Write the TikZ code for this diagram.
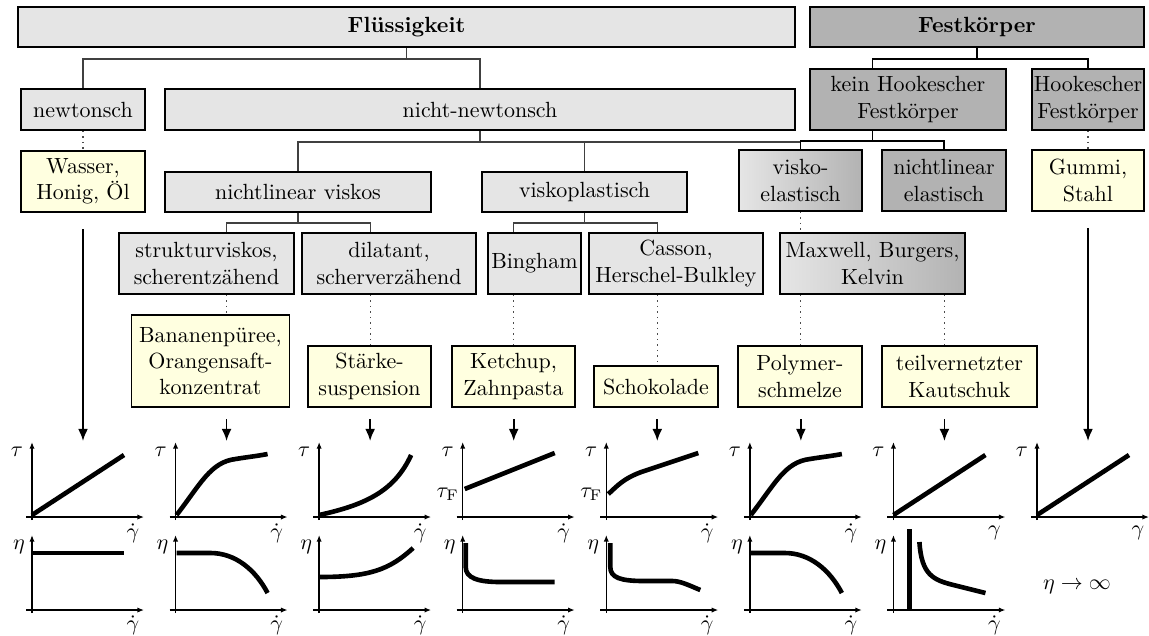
\documentclass[tikz,border=0pt]{standalone}
\usepackage{fontspec}
\usepackage{amsmath}
\usetikzlibrary{arrows.meta, positioning}
\definecolor{fluid}{gray}{0.9}
\definecolor{fest}{gray}{0.7}
\definecolor{beispiel}{RGB}{255,255,224}
\tikzset{
  kasten/.style 2 args={draw, line width=0.9pt, inner sep=0pt, align=center,
    minimum width=#1*0.455pt, minimum height=#2*0.455pt},
  zweig/.style={line width=0.5pt, black!75},
  fein/.style={dotted, line width=0.5pt, black!70},
  pfeil/.style={-{Latex[length=5.5pt,width=4.5pt]}, line width=0.8pt},
  achse/.style={-{Latex[length=3pt,width=2.4pt]}, line width=0.7pt},
  kurve/.style={line width=2.1pt},
}

\begin{document}
\begin{tikzpicture}[x=0.455pt, y=-0.455pt]
  \useasboundingbox (0,0) rectangle (1149,635);

  % Hauptgruppen
  \node[kasten={777}{40}, fill=fluid] (fl) at (406.5,27) {\textbf{Flüssigkeit}};
  \node[kasten={334}{40}, fill=fest] (fk) at (977,27) {\textbf{Festkörper}};

  \node[kasten={124}{41}, fill=fluid] (newt) at (83,109.5) {newtonsch};
  \node[kasten={630}{41}, fill=fluid] (nnewt) at (480,109.5) {nicht-newtonsch};
  \node[kasten={196}{61}, fill=fest] (khook) at (908,99.5) {kein Hookescher\\Festkörper};
  \node[kasten={112}{61}, fill=fest] (hook) at (1088,99.5) {Hookescher\\Festkörper};

  \node[kasten={124}{61}, fill=beispiel] (wasser) at (83,181.5) {Wasser,\\Honig, Öl};
  \node[kasten={266}{40}, fill=fluid] (nlvis) at (298,192) {nichtlinear viskos};
  \node[kasten={205}{40}, fill=fluid] (vplast) at (584.5,192) {viskoplastisch};
  \node[kasten={123}{61}, left color=fluid, right color=fest] (vel) at (800.5,180.5) {visko-\\elastisch};
  \node[kasten={124}{61}, fill=fest] (nlel) at (944,180.5) {nichtlinear\\elastisch};
  \node[kasten={112}{61}, fill=beispiel] (gummi) at (1088,180.5) {Gummi,\\Stahl};

  \node[kasten={175}{61}, fill=fluid] (struk) at (206.5,263.5) {strukturviskos,\\scherentzähend};
  \node[kasten={174}{61}, fill=fluid] (dil) at (389,263.5) {dilatant,\\scherverzähend};
  \node[kasten={93}{61}, fill=fluid] (bing) at (534.5,263.5) {Bingham};
  \node[kasten={174}{61}, fill=fluid] (cass) at (676,263.5) {Casson,\\Herschel-Bulkley};
  \node[kasten={185}{61}, left color=fluid, right color=fest] (maxw) at (872.5,263.5) {Maxwell, Burgers,\\Kelvin};

  % Beispiele
  \node[kasten={158}{92}, fill=beispiel] (banane) at (210.5,361) {Bananenpüree,\\Orangensaft-\\konzentrat};
  \node[kasten={123}{61}, fill=beispiel] (staerke) at (369.5,376.5) {Stärke-\\suspension};
  \node[kasten={123}{61}, fill=beispiel] (ketchup) at (513.5,376.5) {Ketchup,\\Zahnpasta};
  \node[kasten={124}{41}, fill=beispiel] (schoko) at (656,386.5) {Schokolade};
  \node[kasten={124}{61}, fill=beispiel] (polymer) at (800,376.5) {Polymer-\\schmelze};
  \node[kasten={155}{61}, fill=beispiel] (kaut) at (959.5,376.5) {teilvernetzter\\Kautschuk};

  % Spalten
  \foreach \i in {1,...,8} {
    \coordinate (t\i) at ({83+143.57*(\i-1)},441);
    \coordinate (o\i) at ({32+143.57*(\i-1)},517);
  }
  \foreach \i in {1,...,7}
    \coordinate (u\i) at ({32+143.57*(\i-1)},610);

  % Baum
  \draw[zweig] (fl.south) -- ++(0,11) -| (newt.north);
  \draw[zweig] (fl.south) -- ++(0,11) -| (nnewt.north);
  \draw[zweig] (nnewt.south) -- ++(0,11) -| (nlvis.north);
  \draw[zweig] (nnewt.south) -- ++(0,11) -| (vplast.north);
  \draw[zweig] (nnewt.south) -- ++(0,11) -| (vel.north);
  \draw[zweig] (nlvis.south) -- ++(0,10) -| (struk.north -| t2);
  \draw[zweig] (nlvis.south) -- ++(0,10) -| (dil.north -| t3);
  \draw[zweig] (vplast.south) -- ++(0,10) -| (bing.north -| t4);
  \draw[zweig] (vplast.south) -- ++(0,10) -| (cass.north -| t5);
  \draw[line width=0.5pt] (fk.south) -- ++(0,11) -| (khook.north -| maxw);
  \draw[line width=0.5pt] (fk.south) -- ++(0,11) -| (hook.north);
  \draw[line width=0.5pt] (khook.south -| maxw) -- ++(0,10) -| (vel.north);
  \draw[line width=0.5pt] (khook.south -| maxw) -- ++(0,10) -| (nlel.north);

  \draw[fein] (newt.south) -- (wasser.north);
  \draw[fein] (hook.south) -- (gummi.north);
  \draw[fein] (vel.south) -- (maxw.north -| vel);
  \draw[fein] (struk.south -| t2) -- (banane.north -| t2);
  \draw[fein] (dil.south -| t3) -- (staerke.north -| t3);
  \draw[fein] (bing.south -| t4) -- (ketchup.north -| t4);
  \draw[fein] (cass.south -| t5) -- (schoko.north -| t5);
  \draw[fein] (maxw.south -| t6) -- (polymer.north -| t6);
  \draw[fein] (maxw.south -| t7) -- (kaut.north -| t7);

  \draw[pfeil] (wasser.south) ++(0,16) -- (t1);
  \draw[pfeil] (banane.south -| t2) ++(0,11) -- (t2);
  \draw[pfeil] (staerke.south -| t3) ++(0,11) -- (t3);
  \draw[pfeil] (ketchup.south -| t4) ++(0,11) -- (t4);
  \draw[pfeil] (schoko.south -| t5) ++(0,11) -- (t5);
  \draw[pfeil] (polymer.south -| t6) ++(0,11) -- (t6);
  \draw[pfeil] (kaut.south -| t7) ++(0,11) -- (t7);
  \draw[pfeil] (gummi.south) ++(0,16) -- (t8);

  % Fliesskurven
  \foreach \i/\xl in {1/\dot\gamma,2/\dot\gamma,3/\dot\gamma,4/\dot\gamma,5/\dot\gamma,6/\dot\gamma,7/\gamma,8/\gamma} {
    \begin{scope}[shift={(o\i)}, yscale=-1]
      \draw[achse] (-6,0) -- (112,0);
      \draw[achse] (0,-3) -- (0,75);
      \node (tau\i) at (-15,65) {$\tau$};
      \node (gd\i) at (101,-16) {$\xl$};
    \end{scope}
  }
  \draw[kurve, shift={(o1)}, yscale=-1] (0,2) -- (92,62);
  \draw[kurve, shift={(o2)}, yscale=-1] (1,2) .. controls (25,33) and (35,55) .. (60,58) .. controls (72,60) and (82,61) .. (92,63);
  \draw[kurve, shift={(o3)}, yscale=-1] (0,2) .. controls (45,12) and (75,25) .. (92,62);
  \draw[kurve, shift={(o4)}, yscale=-1] (2,28) -- (92,64);
  \draw[kurve, shift={(o5)}, yscale=-1] (2,23) .. controls (10,30) and (16,38) .. (35,45) -- (92,64);
  \draw[kurve, shift={(o6)}, yscale=-1] (1,2) .. controls (25,33) and (35,55) .. (60,58) .. controls (72,60) and (82,61) .. (92,63);
  \draw[kurve, shift={(o7)}, yscale=-1] (0,2) -- (92,62);
  \draw[kurve, shift={(o8)}, yscale=-1] (0,2) -- (92,62);
  \begin{scope}[shift={(o4)}, yscale=-1]
    \node (tauF4) at (-15,23) {$\tau_{\mathrm{F}}$};
  \end{scope}
  \begin{scope}[shift={(o5)}, yscale=-1]
    \node (tauF5) at (-15,23) {$\tau_{\mathrm{F}}$};
  \end{scope}

  % Viskositaetskurven
  \foreach \i in {1,...,7} {
    \begin{scope}[shift={(u\i)}, yscale=-1]
      \draw[achse] (-6,0) -- (112,0);
      \draw[achse] (0,-3) -- (0,75);
      \node (eta\i) at (-13,63) {$\eta$};
      \node (ge\i) at (101,-15) {$\dot\gamma$};
    \end{scope}
  }
  \draw[kurve, shift={(u1)}, yscale=-1] (0,57) -- (92,57);
  \draw[kurve, shift={(u2)}, yscale=-1] (1,57) -- (35,57) .. controls (60,57) and (80,40) .. (92,17);
  \draw[kurve, shift={(u3)}, yscale=-1] (0,33) .. controls (50,33) and (70,40) .. (94,62);
  \draw[kurve, shift={(u4)}, yscale=-1] (3,67) -- (3,43) .. controls (3,32) and (15,28) .. (38,28) -- (92,28);
  \draw[kurve, shift={(u5)}, yscale=-1] (4,67) -- (4,43) .. controls (4,32) and (15,29) .. (38,29) -- (66,29) .. controls (74,29) and (82,25) .. (94,20);
  \draw[kurve, shift={(u6)}, yscale=-1] (1,57) -- (35,57) .. controls (60,57) and (80,40) .. (92,17);
  \draw[kurve, shift={(u7)}, yscale=-1] (16,0) -- (16,81);
  \draw[kurve, shift={(u7)}, yscale=-1] (26,68) .. controls (28,35) and (40,30) .. (60,25) -- (92,17);
  \node (unendl) at (1077,587) {$\eta\to\infty$};
\end{tikzpicture}
\end{document}
